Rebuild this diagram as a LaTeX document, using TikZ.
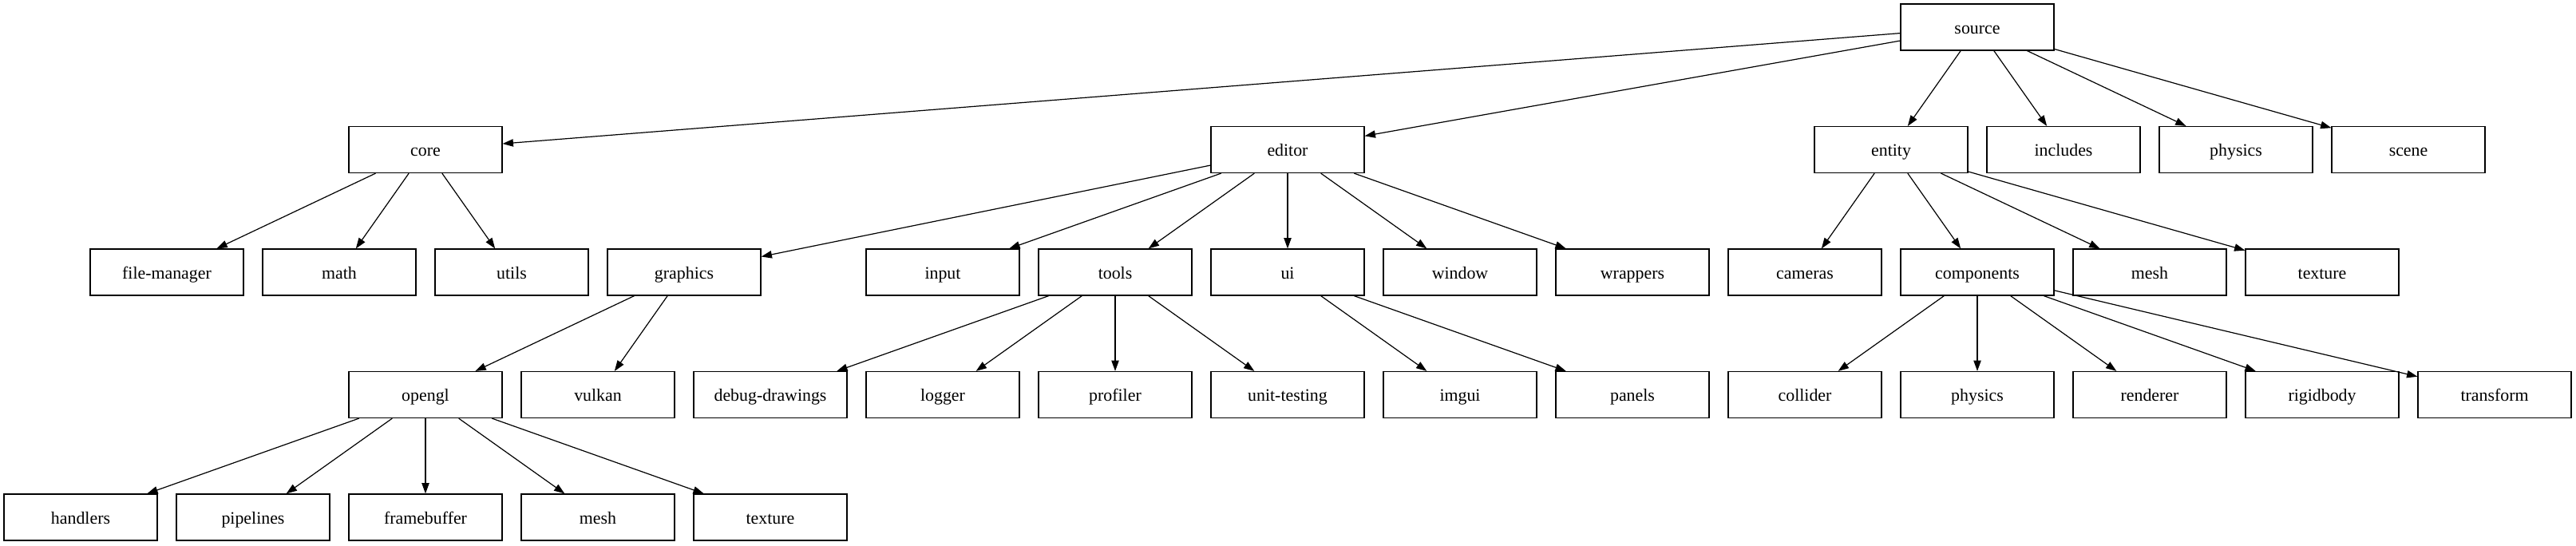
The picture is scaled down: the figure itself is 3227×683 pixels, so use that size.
\documentclass[tikz,border=0pt]{standalone}
\usepackage{fontspec}
\setmainfont{Liberation Serif}
\usetikzlibrary{arrows.meta}

\begin{document}
\begin{tikzpicture}[x=0.75pt,y=-0.75pt,
      dir/.style={draw,line width=0.9pt,minimum width=144pt,minimum height=43.5pt,
                  inner sep=0pt,text height=14pt,text depth=2pt,
                  font=\fontsize{16.4}{19}\selectfont},
      link/.style={line width=0.9pt,-{Triangle[length=10pt,width=7pt]}}
     ]
\useasboundingbox (0,0) rectangle (3227,683);
% folders: column/rank/name/label
\foreach \c/\r/\n/\t in {
    11/0/source/source,
    2/1/core/core, 7/1/editor/editor, 10.5/1/entity/entity,
    11.5/1/includes/includes, 12.5/1/physics/physics, 13.5/1/scene/scene,
    0.5/2/filemanager/file-manager, 1.5/2/math/math, 2.5/2/utils/utils,
    3.5/2/graphics/graphics, 5/2/input/input, 6/2/tools/tools, 7/2/ui/ui,
    8/2/window/window, 9/2/wrappers/wrappers, 10/2/cameras/cameras,
    11/2/components/components, 12/2/entmesh/mesh, 13/2/enttexture/texture,
    2/3/opengl/opengl, 3/3/vulkan/vulkan, 4/3/debugdrawings/debug-drawings,
    5/3/logger/logger, 6/3/profiler/profiler, 7/3/unittesting/unit-testing,
    8/3/imgui/imgui, 9/3/panels/panels, 10/3/collider/collider,
    11/3/compphysics/physics, 12/3/renderer/renderer, 13/3/rigidbody/rigidbody,
    14/3/transform/transform,
    0/4/handlers/handlers, 1/4/pipelines/pipelines, 2/4/framebuffer/framebuffer,
    3/4/glmesh/mesh, 4/4/gltexture/texture}
  \node[dir] (\n) at ({101+216*\c},{34+153.5*\r}) {\t};
% parent -> child
\foreach \a/\b in {
    source/core, source/editor, source/entity, source/includes, source/physics, source/scene,
    core/filemanager, core/math, core/utils,
    editor/graphics, editor/input, editor/tools, editor/ui, editor/window, editor/wrappers,
    entity/cameras, entity/components, entity/entmesh, entity/enttexture,
    graphics/opengl, graphics/vulkan,
    tools/debugdrawings, tools/logger, tools/profiler, tools/unittesting,
    ui/imgui, ui/panels,
    components/collider, components/compphysics, components/renderer,
    components/rigidbody, components/transform,
    opengl/handlers, opengl/pipelines, opengl/framebuffer, opengl/glmesh, opengl/gltexture}
  \draw[link] (\a) -- (\b);
\end{tikzpicture}
\end{document}
